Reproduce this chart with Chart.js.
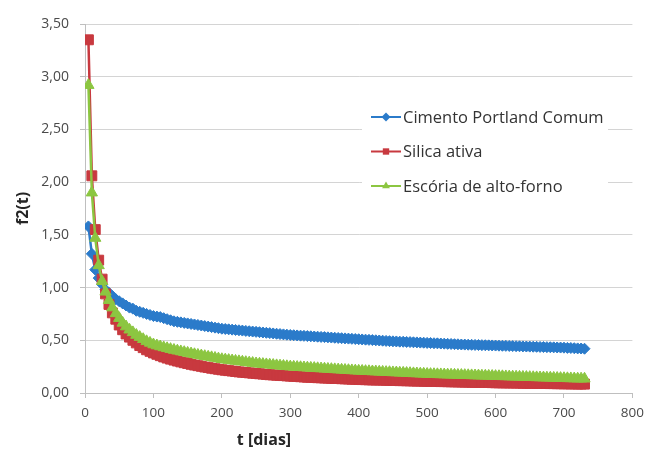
<!DOCTYPE html>
<html lang="pt">
<head>
  <meta charset="UTF-8" />
  <title>f2(t)</title>
  <script src="https://cdn.jsdelivr.net/npm/chart.js"></script>
  <style>
    *{margin:0;padding:0;box-sizing:border-box}
    body{background:#fff;width:651px;height:457px;overflow:hidden}
    .wrap{position:relative;width:651px;height:457px}
  </style>
</head>
<body>
  <div class="wrap"><canvas id="chart" width="651" height="457"></canvas></div>

  <script>
    // idade em dias
    const days = [
      5,10,15,20,25,30,35,40,45,50,55,60,65,70,75,80,85,90,95,100,
      105,110,115,120,125,130,135,140,145,150,
      155,160,165,170,175,180,185,190,195,200,
      205,210,215,220,225,230,235,240,245,250,
      255,260,265,270,275,280,285,290,295,300,
      305,310,315,320,325,330,335,340,345,350,
      355,360,365,370,375,380,385,390,395,400,
      405,410,415,420,425,430,435,440,445,450,
      455,460,465,470,475,480,485,490,495,500,
      505,510,515,520,525,530,535,540,545,550,
      555,560,565,570,575,580,585,590,595,600,
      605,610,615,620,625,630,635,640,645,650,
      655,660,665,670,675,680,685,690,695,700,
      705,710,715,720,725,730
    ];

    const cimentoPortland = [
      1.58,1.32,1.17,1.09,1.03,0.98,0.95,0.92,0.89,0.87,0.85,0.83,0.81,0.80,0.78,0.77,0.76,0.75,0.74,0.73,
      0.725,0.72,0.71,0.70,0.69,0.68,0.675,0.67,0.665,0.66,
      0.655,0.65,0.645,0.64,0.635,0.63,0.625,0.62,0.615,0.61,
      0.607,0.604,0.601,0.598,0.595,0.592,0.589,0.586,0.583,0.58,
      0.577,0.574,0.571,0.568,0.565,0.562,0.559,0.556,0.553,0.55,
      0.548,0.546,0.544,0.542,0.54,0.538,0.536,0.534,0.532,0.53,
      0.528,0.526,0.524,0.522,0.52,0.518,0.516,0.514,0.512,0.51,
      0.508,0.506,0.504,0.502,0.50,0.498,0.496,0.494,0.492,0.49,
      0.489,0.487,0.486,0.484,0.483,0.481,0.48,0.478,0.477,0.475,
      0.474,0.472,0.471,0.469,0.468,0.466,0.465,0.463,0.462,0.46,
      0.459,0.458,0.457,0.456,0.455,0.454,0.453,0.452,0.451,0.45,
      0.449,0.448,0.447,0.446,0.445,0.444,0.443,0.442,0.441,0.44,
      0.439,0.438,0.437,0.436,0.435,0.434,0.433,0.432,0.431,0.43,
      0.428,0.427,0.425,0.423,0.422,0.42
    ];

    const silicaAtiva = [
      3.35,2.06,1.55,1.26,1.08,0.94,0.84,0.76,0.70,0.645,0.60,0.56,0.53,0.50,0.475,0.45,0.43,0.41,0.395,0.38,
      0.367,0.354,0.342,0.331,0.321,0.312,0.303,0.295,0.287,0.28,
      0.272,0.265,0.259,0.253,0.246,0.241,0.235,0.23,0.225,0.22,
      0.216,0.212,0.208,0.204,0.200,0.197,0.194,0.191,0.188,0.185,
      0.182,0.179,0.176,0.173,0.171,0.169,0.167,0.165,0.162,0.16,
      0.158,0.156,0.154,0.152,0.150,0.149,0.147,0.145,0.144,0.142,
      0.141,0.139,0.138,0.137,0.135,0.134,0.133,0.131,0.130,0.128,
      0.127,0.126,0.125,0.124,0.123,0.123,0.122,0.121,0.120,0.119,
      0.118,0.117,0.117,0.116,0.115,0.114,0.113,0.113,0.112,0.111,
      0.110,0.110,0.109,0.108,0.108,0.107,0.106,0.106,0.105,0.104,
      0.103,0.103,0.102,0.101,0.101,0.100,0.099,0.099,0.098,0.097,
      0.097,0.096,0.096,0.095,0.095,0.094,0.094,0.093,0.093,0.092,
      0.092,0.091,0.091,0.090,0.090,0.089,0.089,0.088,0.088,0.087,
      0.087,0.086,0.086,0.085,0.085,0.084
    ];

    const escoria = [
      2.92,1.90,1.47,1.21,1.06,0.96,0.88,0.81,0.755,0.71,0.665,0.63,0.60,0.575,0.55,0.53,0.51,0.49,0.475,0.46,
      0.45,0.441,0.432,0.424,0.416,0.408,0.401,0.394,0.387,0.38,
      0.374,0.367,0.361,0.355,0.349,0.343,0.338,0.332,0.326,0.32,
      0.316,0.312,0.308,0.304,0.30,0.296,0.292,0.288,0.284,0.28,
      0.277,0.274,0.271,0.268,0.265,0.262,0.259,0.256,0.253,0.25,
      0.248,0.246,0.244,0.242,0.24,0.238,0.236,0.234,0.232,0.23,
      0.228,0.226,0.224,0.222,0.22,0.218,0.216,0.214,0.212,0.21,
      0.209,0.207,0.206,0.204,0.203,0.201,0.20,0.198,0.197,0.195,
      0.194,0.192,0.191,0.189,0.188,0.186,0.185,0.183,0.182,0.18,
      0.179,0.178,0.177,0.176,0.175,0.174,0.173,0.172,0.171,0.17,
      0.169,0.168,0.167,0.166,0.165,0.164,0.163,0.162,0.161,0.16,
      0.159,0.158,0.157,0.156,0.155,0.154,0.153,0.152,0.151,0.15,
      0.149,0.148,0.147,0.146,0.145,0.144,0.143,0.142,0.141,0.14,
      0.139,0.138,0.137,0.136,0.136,0.135
    ];

    const seriesNames = ['Cimento Portland Comum', 'Silica ativa', 'Escória de alto-forno'];
    const xTicks = [0, 100, 200, 300, 400, 500, 600, 700, 800];
    const yTicks = [0, 0.5, 1, 1.5, 2, 2.5, 3, 3.5];

    const FONT = "'Open Sans', sans-serif";
    const pts = vals => days.map((d, i) => ({ x: d, y: vals[i] }));

    function marker(ctx, style, x, y, r, color) {
      ctx.beginPath();
      if (style === 'rectRot') {
        ctx.moveTo(x, y - r); ctx.lineTo(x + r, y); ctx.lineTo(x, y + r); ctx.lineTo(x - r, y);
      } else if (style === 'rect') {
        const s = r * Math.SQRT1_2;
        ctx.rect(x - s, y - s, 2 * s, 2 * s);
      } else {
        ctx.moveTo(x, y - r); ctx.lineTo(x + r * 0.866, y + r * 0.5); ctx.lineTo(x - r * 0.866, y + r * 0.5);
      }
      ctx.closePath();
      ctx.fillStyle = color;
      ctx.fill();
    }

    // legenda dentro da área do gráfico + título do eixo x
    const extras = {
      id: 'extras',
      afterDraw(chart) {
        const ctx = chart.ctx, a = chart.chartArea;
        ctx.save();
        ctx.fillStyle = '#fff';
        ctx.fillRect(362, 100, 246, 100);
        ctx.font = "16.5px " + FONT;
        ctx.textBaseline = 'middle';
        chart.data.datasets.forEach((ds, i) => {
          const y = 117 + i * 34.5;
          ctx.strokeStyle = ds.borderColor;
          ctx.lineWidth = 2;
          ctx.beginPath(); ctx.moveTo(371, y); ctx.lineTo(401, y); ctx.stroke();
          marker(ctx, ds.pointStyle, 386, y, 4.5, ds.borderColor);
          ctx.fillStyle = '#333';
          ctx.fillText(ds.label, 403, y + 1);
        });
        ctx.font = "bold 16px " + FONT;
        ctx.fillStyle = '#262626';
        ctx.textAlign = 'center';
        ctx.fillText('t [dias]', a.left + (a.right - a.left) * 0.327, a.bottom + 47);
        ctx.restore();
      }
    };

    new Chart(document.getElementById('chart'), {
      type: 'line',
      data: {
        datasets: [
          { label: seriesNames[0], data: pts(cimentoPortland), borderColor: '#2b7bca', backgroundColor: '#2b7bca',
            pointStyle: 'rectRot', pointRadius: 5.5, order: 3 },
          { label: seriesNames[1], data: pts(silicaAtiva), borderColor: '#c8393f', backgroundColor: '#c8393f',
            pointStyle: 'rect', pointRadius: 7, order: 2 },
          { label: seriesNames[2], data: pts(escoria), borderColor: '#8cc641', backgroundColor: '#8cc641',
            pointStyle: 'triangle', pointRadius: 6.5, order: 1 }
        ]
      },
      options: {
        responsive: false,
        animation: false,
        events: [],
        layout: { padding: { left: 0, top: 24, right: 16, bottom: 0 } },
        elements: {
          line: { borderWidth: 2.5, tension: 0, fill: false },
          point: { borderWidth: 1, hoverRadius: 5 }
        },
        plugins: { legend: { display: false }, tooltip: { enabled: false } },
        scales: {
          x: {
            type: 'linear', min: 0, max: 800,
            afterBuildTicks: s => { s.ticks = xTicks.map(v => ({ value: v })); },
            afterFit: s => { s.height = 64; },
            grid: { drawOnChartArea: false, drawTicks: true, tickLength: 5, tickColor: '#bfbfbf' },
            border: { color: '#bfbfbf' },
            ticks: { color: '#4a4a4a', font: { family: FONT, size: 13.5 }, padding: 7, maxRotation: 0 }
          },
          y: {
            min: 0, max: 3.5,
            afterBuildTicks: s => { s.ticks = yTicks.map(v => ({ value: v })); },
            afterFit: s => { s.width = 85; },
            grid: { color: '#d4d4d4', tickLength: 5, tickColor: '#bfbfbf' },
            border: { color: '#bfbfbf' },
            ticks: {
              color: '#4a4a4a', font: { family: FONT, size: 14 }, padding: 11,
              callback: v => v.toFixed(2).replace('.', ',')
            },
            title: { display: true, text: 'f2(t)', color: '#262626', font: { family: FONT, size: 16, weight: 'bold' }, padding: { top: 14 } }
          }
        }
      },
      plugins: [extras]
    });
  </script>
</body>
</html>
